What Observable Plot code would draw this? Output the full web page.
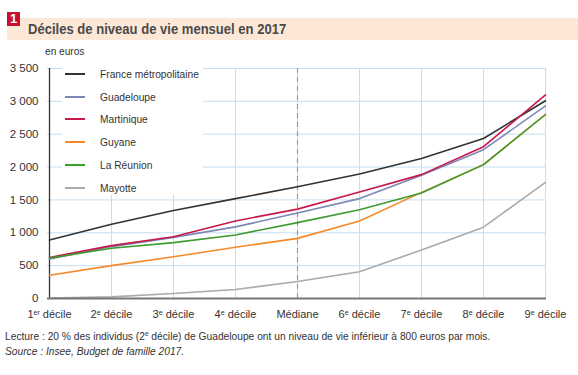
<!DOCTYPE html>
<html>
<head>
<meta charset="utf-8">
<script src="https://cdn.jsdelivr.net/npm/d3@7"></script>
<script src="https://cdn.jsdelivr.net/npm/@observablehq/plot@0.6"></script>
<style>
  html, body { margin: 0; padding: 0; background: #fff; }
  body { width: 578px; height: 375px; position: relative; overflow: hidden;
         font-family: "Liberation Sans", Arial, sans-serif; color: #333; }
  #band { position: absolute; left: 7px; top: 18px; width: 571px; height: 22px; background: #fde8d8; }
  #num { position: absolute; left: 7px; top: 12px; width: 13px; height: 14px; background: #c8102e; color: #fff;
         font: bold 13px "Liberation Sans", sans-serif; text-align: center; line-height: 14px; }
  #title { position: absolute; left: 28px; top: 20px; font-weight: bold; font-size: 15px; color: #4a4a4a; white-space: nowrap;
           transform: scaleX(0.87); transform-origin: 0 0; }
  #unit { position: absolute; left: 45px; top: 45px; font-size: 11px; color: #333; transform: scaleX(0.92); transform-origin: 0 0; }
  #chart { position: absolute; left: 0; top: 44px; }
  #legend { position: absolute; left: 62px; top: 60px; width: 141px; height: 135px; background: #fff; }
  .row { position: absolute; left: 0; height: 16px; font-size: 11px; color: #333; white-space: nowrap; }
  .row span.l { position: absolute; left: 3px; top: 7px; width: 20px; height: 2px; }
  .row span.t { position: absolute; left: 38px; top: 0; line-height: 16px; transform: scaleX(0.93); transform-origin: 0 0; }
  #cap1 { position: absolute; left: 5px; top: 330px; font-size: 11px; color: #333; white-space: nowrap; transform: scaleX(0.93); transform-origin: 0 0; }
  #cap2 { position: absolute; left: 5px; top: 345px; font-size: 11px; color: #333; font-style: italic; white-space: nowrap; transform: scaleX(0.93); transform-origin: 0 0; }
  sup { font-size: 7px; vertical-align: 4px; line-height: 0; }
</style>
</head>
<body>
<div id="band"></div>
<div id="num">1</div>
<div id="title">Déciles de niveau de vie mensuel en 2017</div>
<div id="unit">en euros</div>
<div id="chart"></div>
<div id="legend"></div>
<div id="cap1">Lecture : 20 % des individus (2<sup>e</sup> décile) de Guadeloupe ont un niveau de vie inférieur à 800 euros par mois.</div>
<div id="cap2">Source : Insee, Budget de famille 2017.</div>
<script>
const categories = ["1er décile", "2e décile", "3e décile", "4e décile", "Médiane", "6e décile", "7e décile", "8e décile", "9e décile"];
const seriesNames = ["France métropolitaine", "Guadeloupe", "Martinique", "Guyane", "La Réunion", "Mayotte"];
const seriesColors = ["#333333", "#7b88b9", "#c8174a", "#f5892a", "#3e9b30", "#aaaaaa"];
const france     = [890, 1130, 1340, 1520, 1700, 1895, 2130, 2435, 3010];
const guadeloupe = [600, 790, 930, 1090, 1300, 1520, 1875, 2265, 2930];
const martinique = [625, 805, 940, 1180, 1360, 1620, 1885, 2310, 3100];
const guyane     = [355, 500, 636, 780, 915, 1180, 1615, 2037, 2800];
const reunion    = [615, 765, 850, 967, 1155, 1350, 1605, 2037, 2800];
const mayotte    = [5, 25, 76, 137, 258, 407, 738, 1085, 1767];
const yTicks = [0, 500, 1000, 1500, 2000, 2500, 3000, 3500];

const seriesValues = [france, guadeloupe, martinique, guyane, reunion, mayotte];
const data = [];
seriesNames.forEach((s, i) => categories.forEach((c, j) => data.push({serie: s, cat: c, v: seriesValues[i][j]})));

const fmt = d => d3.format(",")(d).replace(/,/g, " ");

const chart = Plot.plot({
  width: 578,
  height: 282,
  marginLeft: 47,
  marginRight: 32,
  marginTop: 24,
  marginBottom: 28,
  style: {fontFamily: '"Liberation Sans", Arial, sans-serif', fontSize: "11px", color: "#333", background: "transparent"},
  x: {type: "point", domain: categories, padding: 0, label: null},
  y: {domain: [0, 3500], label: null},
  color: {domain: seriesNames, range: seriesColors},
  marks: [
    Plot.gridY(yTicks, {stroke: "#c5dff0", strokeOpacity: 1, strokeWidth: 1}),
    Plot.gridX(categories, {stroke: "#c5dff0", strokeOpacity: 1, strokeWidth: 1}),
    Plot.ruleX(["Médiane"], {stroke: "#999", strokeWidth: 1.2, strokeDasharray: "5,4", y1: 0, y2: 3500}),
    Plot.axisY(yTicks, {tickSize: 0, tickPadding: 9, tickFormat: fmt, fontSize: 11.5, label: null}),
    Plot.axisX({tickSize: 0, tickPadding: 12, fontSize: 11, label: null}),
    Plot.ruleX([categories[0]], {stroke: "#333", strokeWidth: 1.3}),
    Plot.line(data, {x: "cat", y: "v", z: "serie", stroke: "serie", strokeWidth: 1.6}),
    Plot.ruleY([0], {stroke: "#777", strokeWidth: 2})
  ]
});
document.getElementById("chart").appendChild(chart);

// superscripts in x tick labels
d3.select(chart).selectAll("text").each(function() {
  const t = d3.select(this);
  const s = t.text();
  const m = s.match(/^(\d)(er|e) (décile)$/);
  if (m) {
    t.text(null);
    t.append("tspan").text(m[1]);
    t.append("tspan").attr("font-size", "7px").attr("dy", "-0.45em").text(m[2]);
    t.append("tspan").attr("dy", "0.28em").text(" " + m[3]);
  }
});

// legend
const legend = document.getElementById("legend");
seriesNames.forEach((s, i) => {
  const row = document.createElement("div");
  row.className = "row";
  row.style.top = (6 + i * 22.7) + "px";
  row.innerHTML = `<span class="l" style="background:${seriesColors[i]}"></span><span class="t">${s}</span>`;
  legend.appendChild(row);
});
</script>
</body>
</html>
